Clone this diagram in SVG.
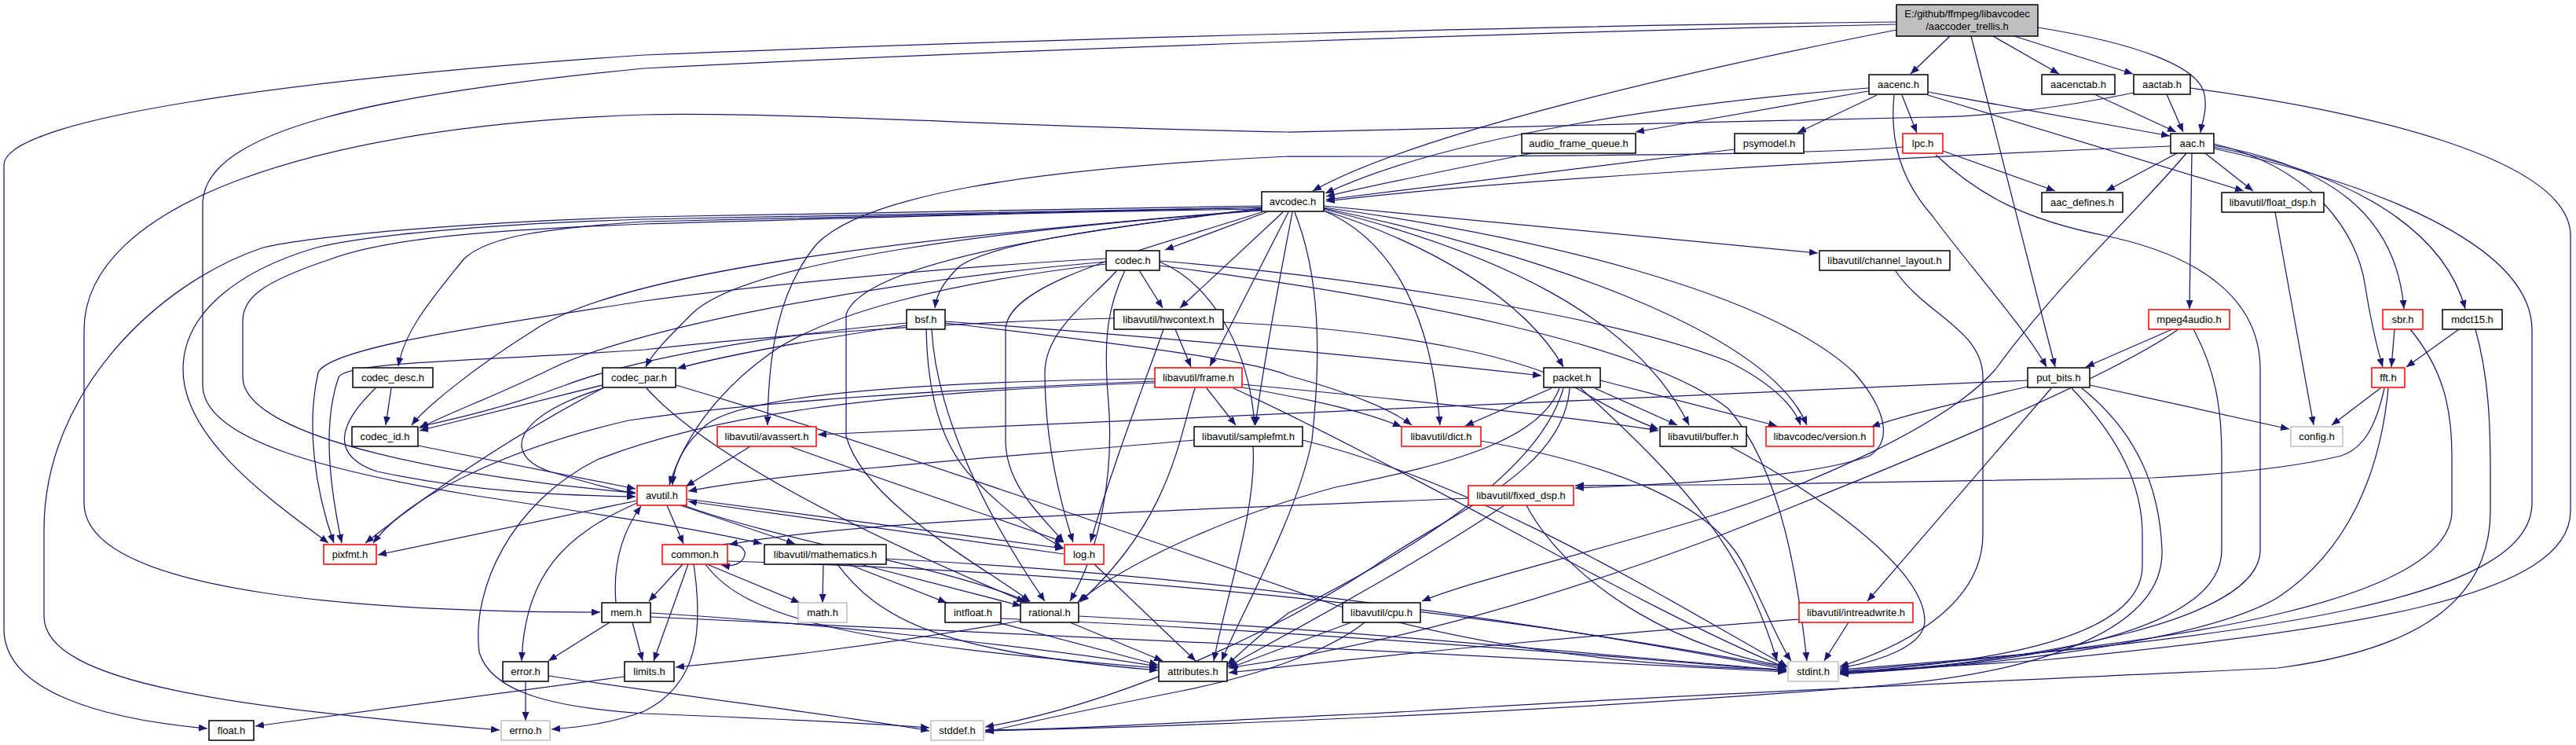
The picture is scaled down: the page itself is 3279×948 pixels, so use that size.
<svg xmlns="http://www.w3.org/2000/svg" width="3279" height="948" viewBox="0 0 3279 948">
<style>
.n rect{fill:#fff;stroke:#000;stroke-width:1.5}
.n.r rect{stroke:#ff0000}
.n.g rect{stroke:#bfbfbf}
text{font-family:"Liberation Sans",Arial,sans-serif;font-size:13px;text-anchor:middle;fill:#000}
#edges path{fill:none;stroke:#191970;stroke-width:1.25;marker-end:url(#a)}
</style>
<defs>
<marker id="a" markerWidth="11" markerHeight="9" viewBox="0 0 11 9" refX="11" refY="4.5" orient="auto" markerUnits="userSpaceOnUse">
<path d="M0,0 L11,4.5 L0,9 z" fill="#191970"/>
</marker>
</defs>
<rect width="3279" height="948" fill="#fff"/>
<g id="edges">
<path d="M2414,28 C2000,32 1300,50 820,70 C380,100 5,150 5,210 L5,800 C5,880 130,915 264,927"/>
<path d="M2414,31 C2000,40 1300,62 820,87 C480,120 258,165 258,260 L258,490 C258,560 420,600 600,630 C800,660 900,675 970,692"/>
<path d="M2414,38 C2150,90 1800,170 1671,243"/>
<path d="M2482,46 L2432,94"/>
<path d="M2537,46 L2621,94"/>
<path d="M2564,46 L2715,94"/>
<path d="M2594,35 C2720,55 2800,85 2806,120 C2810,140 2803,155 2801,169"/>
<path d="M2509,46 L2616,467"/>
<path d="M2378,116 L2082,168"/>
<path d="M2389,121 L2288,169"/>
<path d="M2421,121 L2440,169"/>
<path d="M2378,112 C2150,130 1850,170 1687,246"/>
<path d="M2454,117 L2762,173"/>
<path d="M2454,121 L2856,243"/>
<path d="M2411,121 C2405,180 2420,230 2460,275 C2500,330 2580,420 2605,467"/>
<path d="M2668,121 L2770,168"/>
<path d="M2758,120 L2779,168"/>
<path d="M2716,118 C2620,138 2520,149 2459,149 L1640,168 C1300,162 1000,142 820,146 C400,160 107,260 107,420 L107,640 C107,760 500,779 764,779"/>
<path d="M2788,112 C3000,140 3272,200 3272,300 L3272,650 C3272,760 3000,800 2600,840 C2450,850 2380,853 2342,855"/>
<path d="M2422,187 C2300,198 1900,199 1640,199 C1300,215 1100,250 1040,310 C990,370 978,450 977,541"/>
<path d="M2473,192 L2616,243"/>
<path d="M2464,197 C2520,250 2580,280 2680,300 C2800,325 2877,380 2877,470 L2877,700 C2877,790 2600,840 2342,858"/>
<path d="M1950,195 C1850,215 1750,235 1688,250"/>
<path d="M2208,190 L1688,254"/>
<path d="M2763,186 C2400,200 1900,230 1688,256"/>
<path d="M2771,195 L2681,243"/>
<path d="M2807,195 L2868,243"/>
<path d="M2790,195 L2787,393"/>
<path d="M2818,185 C2960,210 3050,270 3060,393"/>
<path d="M2818,187 C2990,220 3110,290 3138,393"/>
<path d="M2818,183 C2950,215 3000,300 3010,360 C3018,410 3025,440 3033,467"/>
<path d="M2818,189 C3050,240 3223,320 3223,420 L3223,640 C3223,760 2900,810 2342,852"/>
<path d="M3035,494 C3025,540 3010,570 2980,580 C2900,600 2780,606 2740,608 L2180,617 C2100,617 2040,617 2005,618"/>
<path d="M2783,195 C2720,270 2620,360 2540,470 C2480,540 2300,620 2163,661 C2000,710 1870,740 1810,765"/>
<path d="M2765,419 L2655,467"/>
<path d="M2773,419 C2700,470 2500,560 2180,685 C1900,790 1700,830 1564,850"/>
<path d="M2792,419 C2820,470 2828,520 2828,580 L2828,700 C2828,800 2600,845 2342,856"/>
<path d="M3048,419 L3044,467"/>
<path d="M3068,419 C3110,470 3121,520 3121,580 L3121,650 C3121,760 2800,820 2342,854"/>
<path d="M3130,419 L3063,467"/>
<path d="M3151,419 C3168,480 3170,540 3170,600 L3170,650 C3170,780 3050,830 2900,850 C2700,860 2200,880 1800,905 C1500,920 1350,928 1254,929"/>
<path d="M3030,494 L2968,541"/>
<path d="M3040,494 C3030,600 2990,700 2900,760 C2800,820 2500,850 2342,857"/>
<path d="M2896,270 L2945,541"/>
<path d="M2581,484 L1041,553"/>
<path d="M2581,492 C2500,510 2420,530 2382,543"/>
<path d="M2660,490 L2914,546"/>
<path d="M2611,494 L2377,765"/>
<path d="M2637,494 C2700,560 2727,620 2727,680 L2727,720 C2727,820 2500,845 2342,856"/>
<path d="M2650,494 C2720,550 2749,620 2752,700 C2755,800 2600,855 2400,872 C2000,905 1500,925 1254,930"/>
<path d="M2413,345 C2450,400 2524,420 2524,480 L2524,680 C2524,780 2400,830 2342,848"/>
<path d="M1606,262 C1300,266 1000,272 820,276 C600,282 400,300 335,315 C200,360 56,500 56,674 L56,784 C56,870 300,900 636,929"/>
<path d="M1606,264 C1300,268 1000,276 820,279 C620,285 460,300 403,315 C300,345 233,400 233,470 C233,560 350,640 418,691"/>
<path d="M1606,266 C1300,270 1000,280 820,285 C650,292 500,300 420,330 C330,360 309,380 309,410 L309,480 C309,560 600,610 809,627"/>
<path d="M1606,264 C1300,270 1000,278 820,282 C700,290 620,300 590,330 C550,380 515,420 507,466"/>
<path d="M1606,267 C1200,300 800,340 680,420 C600,470 540,520 524,541"/>
<path d="M1612,270 L1483,318"/>
<path d="M1606,266 C1400,290 1260,310 1220,340 C1200,360 1192,375 1190,392"/>
<path d="M1633,270 L1502,392"/>
<path d="M1640,270 L1540,466"/>
<path d="M1606,268 C1300,290 950,330 880,400 C850,430 830,450 822,467"/>
<path d="M1685,262 L2314,322"/>
<path d="M1606,270 C1450,320 1280,360 1280,420 L1280,560 C1280,620 1330,660 1354,690"/>
<path d="M1606,265 C1400,290 1100,330 1077,400 L1077,555 C1100,640 1250,720 1311,765"/>
<path d="M1645,270 C1630,350 1610,450 1598,541"/>
<path d="M1648,270 C1680,350 1682,450 1670,560 C1650,660 1580,780 1555,841"/>
<path d="M1685,268 C1760,300 1820,380 1833,541"/>
<path d="M1685,266 C1900,320 2080,400 2150,541"/>
<path d="M1685,265 C1950,320 2250,420 2300,541"/>
<path d="M1685,268 C1820,310 1940,380 1990,467"/>
<path d="M1685,264 C1950,300 2250,370 2360,474 C2400,520 2410,560 2380,580 C2300,610 2100,617 2005,621"/>
<path d="M1408,329 C1200,340 950,365 820,383 C650,410 420,440 405,474 C390,540 400,620 425,691"/>
<path d="M1408,333 C1100,360 800,420 700,470 C640,500 560,530 534,545"/>
<path d="M1408,336 C1200,360 1050,400 980,450 C910,500 870,560 852,617"/>
<path d="M1450,344 L1480,392"/>
<path d="M1421,345 C1390,380 1330,420 1330,474 C1330,560 1350,640 1366,690"/>
<path d="M1432,344 C1410,390 1405,430 1410,500 C1420,600 1400,700 1362,765"/>
<path d="M1476,333 C1540,360 1590,440 1597,541"/>
<path d="M1476,332 C1700,350 2050,400 2200,460 C2260,490 2285,520 2292,541"/>
<path d="M1476,338 C1800,380 2100,440 2200,520 C2270,600 2290,750 2300,841"/>
<path d="M1154,411 C950,430 800,460 720,490 C640,520 570,535 534,543"/>
<path d="M1154,414 C1050,430 930,450 862,469"/>
<path d="M1203,409 C1500,430 1800,460 1962,478"/>
<path d="M1203,411 C1450,440 1600,460 1640,478 C1720,500 1770,520 1797,541"/>
<path d="M1179,419 C1180,480 1190,560 1240,610 C1290,660 1330,685 1353,697"/>
<path d="M1186,419 C1190,500 1230,620 1330,765"/>
<path d="M498,494 L491,541"/>
<path d="M478,494 C430,540 420,580 480,600 C600,625 700,630 809,632"/>
<path d="M532,567 L809,622"/>
<path d="M767,490 L534,548"/>
<path d="M767,494 C680,540 580,600 465,691"/>
<path d="M768,494 C650,530 640,580 700,600 C750,615 790,625 809,628"/>
<path d="M823,494 C900,580 1100,680 1305,766"/>
<path d="M860,490 C1100,560 1500,700 1700,770 C1900,830 2100,848 2274,852"/>
<path d="M1557,410 C1800,420 1950,460 2000,490 C2050,520 2080,535 2111,546"/>
<path d="M1496,419 L1516,467"/>
<path d="M1481,419 C1460,480 1420,580 1388,690"/>
<path d="M1418,405 C1200,410 950,430 820,445 C600,460 440,460 431,480 C410,540 420,620 435,691"/>
<path d="M1536,494 L1573,541"/>
<path d="M1470,482 C1200,485 950,500 900,540 C870,565 858,590 856,617"/>
<path d="M1470,485 C1100,500 900,520 800,535 C650,570 520,630 475,691"/>
<path d="M1521,494 C1500,560 1490,660 1375,766"/>
<path d="M1581,489 C1800,510 2000,530 2111,548"/>
<path d="M1581,493 C1680,510 1740,525 1784,543"/>
<path d="M1570,494 C1800,600 2100,780 2274,850"/>
<path d="M1470,487 C1100,500 900,530 760,585 C650,640 600,750 610,830 C625,880 700,900 820,908 C1000,915 1100,920 1183,926"/>
<path d="M1520,560 C1300,580 1000,600 876,625"/>
<path d="M1595,568 C1600,650 1560,760 1545,841"/>
<path d="M1658,560 C1900,620 2150,780 2275,848"/>
<path d="M1885,561 C2050,590 2180,640 2220,720 C2250,780 2265,820 2280,841"/>
<path d="M2202,568 C2300,620 2450,720 2450,790 C2450,820 2400,840 2342,850"/>
<path d="M1975,494 L1865,542"/>
<path d="M2030,494 L2135,541"/>
<path d="M2037,484 L2262,542"/>
<path d="M1985,494 C1960,560 1850,590 1700,620 C1550,660 1430,720 1372,766"/>
<path d="M1990,494 C1960,600 1800,700 1640,780 C1600,810 1580,830 1562,846"/>
<path d="M1998,494 C1990,600 1850,650 1750,720 C1600,820 1400,900 1254,925"/>
<path d="M2012,494 C2150,620 2220,700 2262,841"/>
<path d="M955,568 L873,619"/>
<path d="M1005,568 C1150,620 1300,670 1354,690"/>
<path d="M849,643 L870,692"/>
<path d="M866,643 L1012,692"/>
<path d="M874,635 L1354,698"/>
<path d="M870,643 C1000,690 1200,720 1310,766"/>
<path d="M811,637 L481,706"/>
<path d="M811,640 C720,680 668,730 664,841"/>
<path d="M1354,705 L876,638"/>
<path d="M1393,718 L1522,841"/>
<path d="M920,693 C940,688 950,700 948,706 C946,716 935,722 918,719"/>
<path d="M869,718 L826,765"/>
<path d="M876,718 L832,841"/>
<path d="M900,718 L1018,767"/>
<path d="M898,718 C950,790 1100,820 1474,850"/>
<path d="M926,714 C1300,725 1800,760 2274,850"/>
<path d="M883,718 C895,800 890,870 820,905 C780,920 740,925 702,928"/>
<path d="M1048,718 L1047,767"/>
<path d="M1080,718 L1205,767"/>
<path d="M1095,718 L1300,771"/>
<path d="M1066,718 C1120,790 1200,830 1474,853"/>
<path d="M1128,711 C1500,730 1900,780 2274,852"/>
<path d="M776,792 L698,841"/>
<path d="M805,792 L818,841"/>
<path d="M784,767 C780,720 790,680 816,644"/>
<path d="M828,780 C1000,790 1300,820 1474,848"/>
<path d="M828,785 C1200,800 1800,830 2274,855"/>
<path d="M669,867 L669,917"/>
<path d="M698,860 C900,890 1100,915 1183,930"/>
<path d="M795,861 L325,924"/>
<path d="M1299,790 C1100,825 950,840 860,849"/>
<path d="M1362,792 L1480,841"/>
<path d="M1373,784 C1700,800 2000,830 2274,853"/>
<path d="M1270,792 L1474,846"/>
<path d="M1274,787 C1600,800 2000,830 2274,854"/>
<path d="M1720,792 L1565,850"/>
<path d="M1737,792 C1690,830 1600,860 1500,880 C1400,900 1300,920 1254,932"/>
<path d="M1869,634 C1500,650 1100,660 928,693"/>
<path d="M1915,643 C1800,720 1650,800 1562,849"/>
<path d="M1943,643 C2000,750 2150,830 2274,848"/>
<path d="M2290,788 C2000,810 1800,830 1564,856"/>
<path d="M2353,792 L2322,841"/>
</g>
<g id="n_root" class="n"><rect x="2414" y="6" width="180" height="40" style="fill:#bfbfbf"/><text x="2504" y="22">E:/github/ffmpeg/libavcodec</text><text x="2504" y="38">/aaccoder_trellis.h</text></g>
<g id="n_aacenc" class="n"><rect x="2379" y="95" width="75" height="25"/><text x="2416.5" y="112">aacenc.h</text></g>
<g id="n_aacenctab" class="n"><rect x="2599" y="95" width="93" height="25"/><text x="2645.5" y="112">aacenctab.h</text></g>
<g id="n_aactab" class="n"><rect x="2716" y="95" width="72" height="25"/><text x="2752" y="112">aactab.h</text></g>
<g id="n_afq" class="n"><rect x="1937" y="170" width="145" height="25"/><text x="2009.5" y="187">audio_frame_queue.h</text></g>
<g id="n_psymodel" class="n"><rect x="2208" y="170" width="88" height="25"/><text x="2252" y="187">psymodel.h</text></g>
<g id="n_lpc" class="n r"><rect x="2422" y="170" width="51" height="25"/><text x="2447.5" y="187">lpc.h</text></g>
<g id="n_aac" class="n"><rect x="2763" y="170" width="55" height="25"/><text x="2790.5" y="187">aac.h</text></g>
<g id="n_avcodec" class="n"><rect x="1606" y="244" width="79" height="25"/><text x="1645.5" y="261">avcodec.h</text></g>
<g id="n_aac_defines" class="n"><rect x="2599" y="245" width="103" height="25"/><text x="2650.5" y="262">aac_defines.h</text></g>
<g id="n_float_dsp" class="n"><rect x="2828" y="245" width="130" height="25"/><text x="2893" y="262">libavutil/float_dsp.h</text></g>
<g id="n_codec" class="n"><rect x="1408" y="319" width="68" height="25"/><text x="1442" y="336">codec.h</text></g>
<g id="n_channel_layout" class="n"><rect x="2316" y="319" width="166" height="25"/><text x="2399" y="336">libavutil/channel_layout.h</text></g>
<g id="n_bsf" class="n"><rect x="1154" y="394" width="49" height="25"/><text x="1178.5" y="411">bsf.h</text></g>
<g id="n_hwcontext" class="n"><rect x="1418" y="394" width="139" height="25"/><text x="1487.5" y="411">libavutil/hwcontext.h</text></g>
<g id="n_mpeg4audio" class="n r"><rect x="2735" y="394" width="103" height="25"/><text x="2786.5" y="411">mpeg4audio.h</text></g>
<g id="n_sbr" class="n r"><rect x="3033" y="394" width="51" height="25"/><text x="3058.5" y="411">sbr.h</text></g>
<g id="n_mdct15" class="n"><rect x="3109" y="394" width="76" height="25"/><text x="3147" y="411">mdct15.h</text></g>
<g id="n_codec_desc" class="n"><rect x="449" y="468" width="102" height="25"/><text x="500" y="485">codec_desc.h</text></g>
<g id="n_codec_par" class="n"><rect x="767" y="468" width="93" height="25"/><text x="813.5" y="485">codec_par.h</text></g>
<g id="n_frame" class="n r"><rect x="1470" y="468" width="111" height="25"/><text x="1525.5" y="485">libavutil/frame.h</text></g>
<g id="n_packet" class="n"><rect x="1965" y="468" width="72" height="25"/><text x="2001" y="485">packet.h</text></g>
<g id="n_put_bits" class="n"><rect x="2581" y="468" width="79" height="25"/><text x="2620.5" y="485">put_bits.h</text></g>
<g id="n_fft" class="n r"><rect x="3019" y="468" width="42" height="25"/><text x="3040" y="485">fft.h</text></g>
<g id="n_codec_id" class="n"><rect x="448" y="543" width="84" height="25"/><text x="490" y="560">codec_id.h</text></g>
<g id="n_avassert" class="n r"><rect x="913" y="543" width="126" height="25"/><text x="976" y="560">libavutil/avassert.h</text></g>
<g id="n_samplefmt" class="n"><rect x="1520" y="543" width="138" height="25"/><text x="1589" y="560">libavutil/samplefmt.h</text></g>
<g id="n_dict" class="n r"><rect x="1784" y="543" width="101" height="25"/><text x="1834.5" y="560">libavutil/dict.h</text></g>
<g id="n_buffer" class="n"><rect x="2113" y="543" width="110" height="25"/><text x="2168" y="560">libavutil/buffer.h</text></g>
<g id="n_version" class="n r"><rect x="2248" y="543" width="137" height="25"/><text x="2316.5" y="560">libavcodec/version.h</text></g>
<g id="n_config" class="n g"><rect x="2916" y="543" width="66" height="25"/><text x="2949" y="560">config.h</text></g>
<g id="n_avutil" class="n r"><rect x="811" y="618" width="63" height="25"/><text x="842.5" y="635">avutil.h</text></g>
<g id="n_fixed_dsp" class="n r"><rect x="1869" y="618" width="134" height="25"/><text x="1936" y="635">libavutil/fixed_dsp.h</text></g>
<g id="n_pixfmt" class="n r"><rect x="412" y="693" width="67" height="25"/><text x="445.5" y="710">pixfmt.h</text></g>
<g id="n_common" class="n r"><rect x="843" y="693" width="83" height="25"/><text x="884.5" y="710">common.h</text></g>
<g id="n_mathematics" class="n"><rect x="973" y="693" width="155" height="25"/><text x="1050.5" y="710">libavutil/mathematics.h</text></g>
<g id="n_log" class="n r"><rect x="1355" y="693" width="50" height="25"/><text x="1380" y="710">log.h</text></g>
<g id="n_mem" class="n"><rect x="766" y="767" width="62" height="25"/><text x="797" y="784">mem.h</text></g>
<g id="n_math" class="n g"><rect x="1016" y="767" width="62" height="25"/><text x="1047" y="784">math.h</text></g>
<g id="n_intfloat" class="n"><rect x="1203" y="767" width="71" height="25"/><text x="1238.5" y="784">intfloat.h</text></g>
<g id="n_rational" class="n"><rect x="1299" y="767" width="74" height="25"/><text x="1336" y="784">rational.h</text></g>
<g id="n_cpu" class="n"><rect x="1709" y="767" width="99" height="25"/><text x="1758.5" y="784">libavutil/cpu.h</text></g>
<g id="n_intreadwrite" class="n r"><rect x="2290" y="767" width="145" height="25"/><text x="2362.5" y="784">libavutil/intreadwrite.h</text></g>
<g id="n_error" class="n"><rect x="640" y="842" width="58" height="25"/><text x="669" y="859">error.h</text></g>
<g id="n_limits" class="n"><rect x="795" y="842" width="63" height="25"/><text x="826.5" y="859">limits.h</text></g>
<g id="n_attributes" class="n"><rect x="1475" y="842" width="87" height="25"/><text x="1518.5" y="859">attributes.h</text></g>
<g id="n_stdint" class="n g"><rect x="2276" y="842" width="64" height="25"/><text x="2308" y="859">stdint.h</text></g>
<g id="n_float" class="n"><rect x="266" y="917" width="57" height="25"/><text x="294.5" y="934">float.h</text></g>
<g id="n_errno" class="n g"><rect x="638" y="917" width="62" height="25"/><text x="669" y="934">errno.h</text></g>
<g id="n_stddef" class="n g"><rect x="1185" y="917" width="67" height="25"/><text x="1218.5" y="934">stddef.h</text></g>
</svg>
